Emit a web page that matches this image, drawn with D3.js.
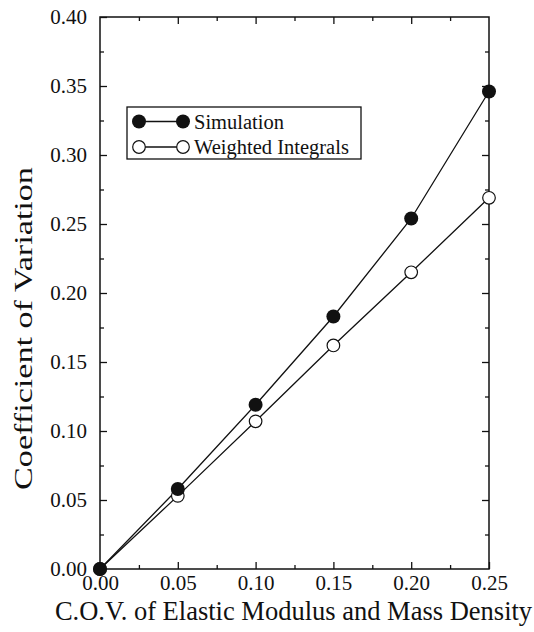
<!DOCTYPE html>
<html>
<head>
<meta charset="utf-8">
<script src="https://cdn.jsdelivr.net/npm/d3@7"></script>
<style>
  html, body { margin: 0; padding: 0; background: #fff; }
  svg { display: block; }
  text { font-family: "Liberation Serif", "Times New Roman", serif; fill: #111; }
</style>
</head>
<body>
<svg id="chart" width="534" height="632"></svg>
<script>
// Coefficient of variation of the response vs. input C.O.V.
const covInput = [0.00, 0.05, 0.10, 0.15, 0.20, 0.25];
const simulation = [0.000, 0.058, 0.119, 0.183, 0.254, 0.346];
const weightedIntegrals = [0.000, 0.053, 0.107, 0.162, 0.215, 0.269];

const xMajorTicks = [0.00, 0.05, 0.10, 0.15, 0.20, 0.25];
const xMinorTicks = [0.025, 0.075, 0.125, 0.175, 0.225];
const yMajorTicks = [0.00, 0.05, 0.10, 0.15, 0.20, 0.25, 0.30, 0.35, 0.40];
const yMinorTicks = [0.025, 0.075, 0.125, 0.175, 0.225, 0.275, 0.325, 0.375];

const seriesNames = ["Simulation", "Weighted Integrals"];
const xTitle = "C.O.V. of Elastic Modulus and Mass Density";
const yTitle = "Coefficient of Variation";

const svg = d3.select("#chart");
const plotLeft = 100, plotRight = 489, plotTop = 17, plotBottom = 569;

const x = d3.scaleLinear().domain([0, 0.25]).range([plotLeft, plotRight]);
const y = d3.scaleLinear().domain([0, 0.40]).range([plotBottom, plotTop]);
const fmt = d3.format(".2f");

const ink = "#111";
const serif = "'Liberation Serif', 'Times New Roman', serif";

// frame
svg.append("rect")
  .attr("x", plotLeft).attr("y", plotTop)
  .attr("width", plotRight - plotLeft).attr("height", plotBottom - plotTop)
  .attr("fill", "none").attr("stroke", ink).attr("stroke-width", 1.5);

function styleAxis(g) {
  g.select(".domain").remove();
  g.selectAll(".tick line").attr("stroke", ink).attr("stroke-width", 1.3);
  g.selectAll(".tick text")
    .attr("font-family", serif)
    .attr("font-size", 21).attr("fill", ink);
}

// bottom axis with labels, ticks pointing inward
svg.append("g").attr("transform", `translate(0,${plotBottom})`)
  .call(d3.axisBottom(x).tickValues(xMajorTicks).tickFormat(fmt)
    .tickSizeInner(-7).tickSizeOuter(0).tickPadding(6))
  .call(styleAxis)
  .selectAll(".tick text").attr("dy", "0.71em");

svg.append("g").attr("transform", `translate(0,${plotBottom})`)
  .call(d3.axisBottom(x).tickValues(xMinorTicks).tickFormat("")
    .tickSizeInner(-4).tickSizeOuter(0))
  .call(styleAxis);

// top ticks
svg.append("g").attr("transform", `translate(0,${plotTop})`)
  .call(d3.axisTop(x).tickValues(xMajorTicks.slice(1, -1)).tickFormat("")
    .tickSizeInner(-7).tickSizeOuter(0))
  .call(styleAxis);
svg.append("g").attr("transform", `translate(0,${plotTop})`)
  .call(d3.axisTop(x).tickValues(xMinorTicks).tickFormat("")
    .tickSizeInner(-4).tickSizeOuter(0))
  .call(styleAxis);

// left axis with labels
svg.append("g").attr("transform", `translate(${plotLeft},0)`)
  .call(d3.axisLeft(y).tickValues(yMajorTicks).tickFormat(fmt)
    .tickSizeInner(-7).tickSizeOuter(0).tickPadding(13))
  .call(styleAxis);
svg.append("g").attr("transform", `translate(${plotLeft},0)`)
  .call(d3.axisLeft(y).tickValues(yMinorTicks).tickFormat("")
    .tickSizeInner(-4).tickSizeOuter(0))
  .call(styleAxis);

// right ticks
svg.append("g").attr("transform", `translate(${plotRight},0)`)
  .call(d3.axisRight(y).tickValues(yMajorTicks.slice(1, -1)).tickFormat("")
    .tickSizeInner(-7).tickSizeOuter(0))
  .call(styleAxis);
svg.append("g").attr("transform", `translate(${plotRight},0)`)
  .call(d3.axisRight(y).tickValues(yMinorTicks).tickFormat("")
    .tickSizeInner(-4).tickSizeOuter(0))
  .call(styleAxis);

// axis titles
svg.append("text")
  .attr("x", (plotLeft + plotRight) / 2 - 1).attr("y", 620)
  .attr("text-anchor", "middle").attr("font-size", 26.5)
  .attr("font-family", serif)
  .text(xTitle);

// vertical title, stretched along its run to a fixed length
const yTitleLength = 323;
const yt = svg.append("text")
  .attr("text-anchor", "middle").attr("font-size", 26)
  .attr("font-family", serif)
  .text(yTitle);
const natural = yt.node().getComputedTextLength() || yTitleLength;
yt.attr("transform", `translate(32,328.5) rotate(-90) scale(${yTitleLength / natural},1)`);

// series
const line = d3.line().x((d, i) => x(covInput[i])).y(d => y(d));

svg.append("path").datum(weightedIntegrals)
  .attr("d", line).attr("fill", "none").attr("stroke", ink).attr("stroke-width", 1.3);
svg.append("path").datum(simulation)
  .attr("d", line).attr("fill", "none").attr("stroke", ink).attr("stroke-width", 1.3);

svg.append("g").selectAll("circle").data(weightedIntegrals).join("circle")
  .attr("cx", (d, i) => x(covInput[i])).attr("cy", d => y(d))
  .attr("r", 6.3).attr("fill", "#fff").attr("stroke", ink).attr("stroke-width", 1.2);

svg.append("g").selectAll("circle").data(simulation).join("circle")
  .attr("cx", (d, i) => x(covInput[i])).attr("cy", d => y(d))
  .attr("r", 7).attr("fill", ink);

// legend
const lg = svg.append("g");
lg.append("rect").attr("x", 127).attr("y", 107).attr("width", 234).attr("height", 52)
  .attr("fill", "#fff").attr("stroke", ink).attr("stroke-width", 1.3);

const rows = [{ name: seriesNames[0], filled: true, cy: 121.5 },
              { name: seriesNames[1], filled: false, cy: 147 }];
rows.forEach(r => {
  lg.append("line").attr("x1", 139).attr("x2", 183).attr("y1", r.cy).attr("y2", r.cy)
    .attr("stroke", ink).attr("stroke-width", 1.3);
  [139, 183].forEach(cx => {
    lg.append("circle").attr("cx", cx).attr("cy", r.cy)
      .attr("r", r.filled ? 7 : 6.3)
      .attr("fill", r.filled ? ink : "#fff")
      .attr("stroke", ink).attr("stroke-width", r.filled ? 0 : 1.2);
  });
  lg.append("text").attr("x", 194).attr("y", r.cy).attr("dy", "0.35em")
    .attr("font-size", 20.5).attr("font-family", serif).text(r.name);
});
</script>
</body>
</html>
